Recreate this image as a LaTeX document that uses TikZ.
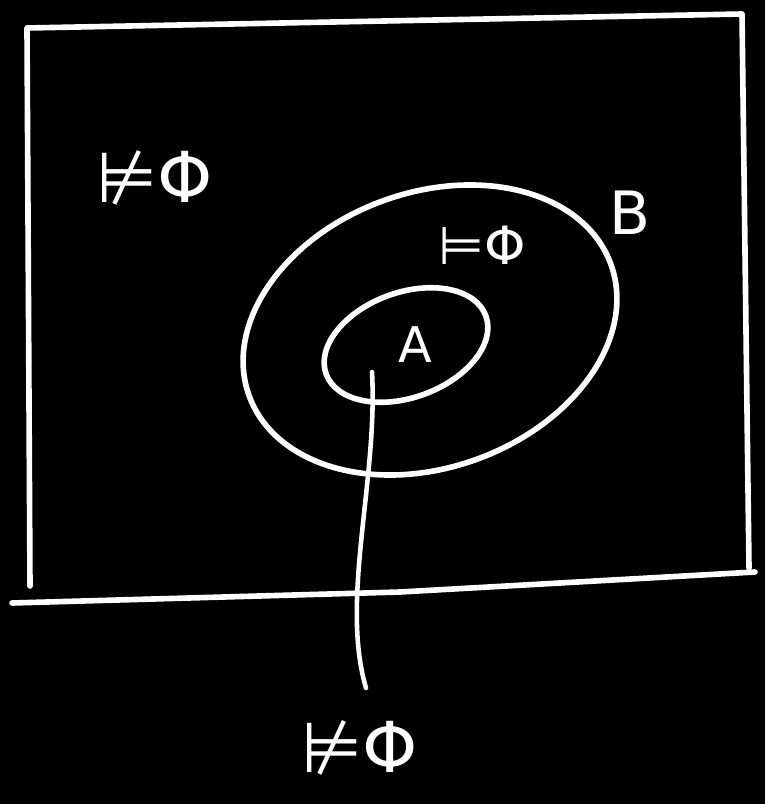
\documentclass[tikz,border=0pt]{standalone}
\usepackage{fontspec}
\setmainfont{DejaVu Sans}
\usetikzlibrary{positioning,calc}
\usetikzlibrary{shapes.geometric}
\definecolor{ChalkWhite}{RGB}{255,255,255}
\tikzset{
  chalk/.style={draw=ChalkWhite,line width=3.2pt,line cap=round,line join=round},
  lbl/.style={text=ChalkWhite,inner sep=0pt},
}

\begin{document}
\begin{tikzpicture}[x=0.02cm,y=-0.02cm]
\fill[black] (0,0) rectangle (765,804);
\useasboundingbox (0,0) rectangle (765,804);
% frame
\coordinate (f1) at (27,28);
\coordinate (f2) at (742,14);
\coordinate (f3) at (749,568);
\coordinate (f4) at (30,586);
\draw[chalk] (f4)--(f1)--(f2)--(f3);
\draw[chalk] (12,603)--(400,592)--(755,572);
% sets
\node[chalk,ellipse,minimum width=7.7cm,minimum height=5.5cm,
  inner sep=0pt,rotate=20] (B) at (430,330) {};
\node[chalk,ellipse,minimum width=3.4cm,minimum height=2.1cm,
  inner sep=0pt,rotate=20] (A) at (406,345) {};
% labels
\node[lbl,font=\fontsize{40}{40}\selectfont] (out) at (155,178) {⊭Φ};
\node[lbl,font=\fontsize{34}{34}\selectfont] (Bl) at (630,213) {B};
\node[lbl,font=\fontsize{30}{30}\selectfont] (in) at (482,245) {⊨Φ};
\node[lbl,font=\fontsize{28}{28}\selectfont] (Al) at (415,345) {A};
\node[lbl,font=\fontsize{40}{40}\selectfont] (bot) at (360,748) {⊭Φ};
% connector
\coordinate (c0) at (372,372);
\coordinate (c1) at (366,688);
\draw[chalk,line width=2.6pt] (c0) .. controls (378,480) and (340,600) .. (c1);
\end{tikzpicture}
\end{document}
